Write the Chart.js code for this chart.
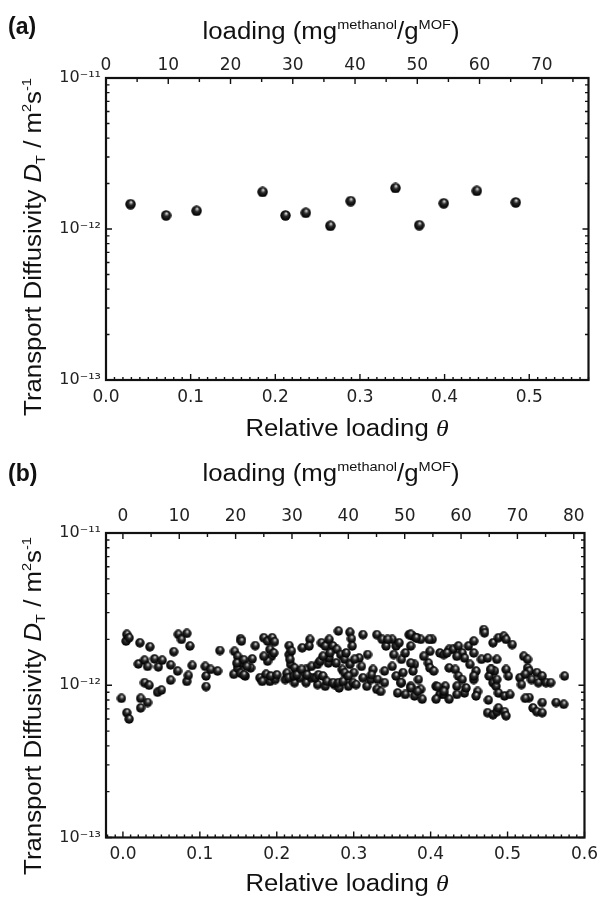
<!DOCTYPE html>
<html>
<head>
<meta charset="utf-8">
<script src="https://cdn.jsdelivr.net/npm/chart.js@4.4.1/dist/chart.umd.min.js"></script>
<style>
  body { margin: 0; background: #fff; }
  #wrap { position: relative; width: 605px; height: 897px; background: #fff; font-family: "Liberation Sans", Arial, sans-serif; color: #111; }
  canvas { position: absolute; left: 0; }
  .lab { position: absolute; white-space: nowrap; line-height: 1; transform: translate(-50%, -50%) scaleX(1.12); font-size: 23px; }
  .panel { position: absolute; font-weight: bold; font-size: 23px; line-height: 1; transform: translateY(-50%); }
  .lab sup { font-size: 13px; vertical-align: 10px; line-height: 0; }
  .lab sub { font-size: 13px; vertical-align: -4px; line-height: 0; }
  .lab.rot { transform: translate(-50%, -50%) rotate(-90deg) scaleX(1.12); }
  .th { font-family: "Liberation Serif", serif; font-style: italic; }
</style>
</head>
<body>
<div id="wrap">
  <canvas id="chartA" width="605" height="450" style="top:0"></canvas>
  <canvas id="chartB" width="605" height="447" style="top:450px"></canvas>

  <div class="panel" style="left:8px; top:26px">(a)</div>
  <div class="lab" style="left:331px; top:31px">loading (mg<sup>methanol</sup>/g<sup>MOF</sup>)</div>
  <div class="lab" style="left:347px; top:428px">Relative loading <span class="th">θ</span></div>
  <div class="lab rot" style="left:33px; top:247px">Transport Diffusivity <i>D</i><sub>T</sub> / m<sup>2</sup>s<sup>-1</sup></div>

  <div class="panel" style="left:8px; top:473px">(b)</div>
  <div class="lab" style="left:331px; top:473px">loading (mg<sup>methanol</sup>/g<sup>MOF</sup>)</div>
  <div class="lab" style="left:347px; top:883px">Relative loading <span class="th">θ</span></div>
  <div class="lab rot" style="left:33px; top:706px">Transport Diffusivity <i>D</i><sub>T</sub> / m<sup>2</sup>s<sup>-1</sup></div>
</div>

<script>
// panel (a) : relative loading / transport diffusivity
const thetaA = [0.029, 0.071, 0.107, 0.185, 0.212, 0.236, 0.265, 0.289, 0.342, 0.370, 0.399, 0.438, 0.484];
const diffA  = [1.46e-12, 1.23e-12, 1.32e-12, 1.76e-12, 1.23e-12, 1.28e-12, 1.05e-12, 1.53e-12, 1.87e-12, 1.06e-12, 1.48e-12, 1.79e-12, 1.50e-12];

// panel (b)
const thetaB = [
  -0.002, 0.004, 0.005, 0.005, 0.008, 0.008, 0.020, 0.022, 0.023, 0.023,
  0.028, 0.028, 0.032, 0.032, 0.034, 0.035, 0.041, 0.045, 0.046, 0.050,
  0.051, 0.062, 0.062, 0.066, 0.071, 0.072, 0.076, 0.083, 0.083, 0.085,
  0.087, 0.090, 0.107, 0.108, 0.108, 0.114, 0.123, 0.126,
  0.145, 0.149, 0.153, 0.154, 0.144, 0.149, 0.154, 0.159, 0.166, 0.168,
  0.172, 0.183, 0.188, 0.194, 0.191, 0.193, 0.188, 0.178, 0.186, 0.191,
  0.198, 0.216, 0.216, 0.218, 0.223, 0.211, 0.223, 0.230, 0.233, 0.243,
  0.242, 0.238, 0.245, 0.253, 0.238, 0.253, 0.245, 0.258, 0.263, 0.268,
  0.267, 0.268, 0.273, 0.280, 0.278, 0.283, 0.288, 0.285, 0.290, 0.263,
  0.275, 0.281, 0.288, 0.293, 0.295, 0.297, 0.298, 0.300, 0.312, 0.307,
  0.310, 0.312, 0.317, 0.330, 0.337, 0.342, 0.340, 0.330, 0.335, 0.325,
  0.322, 0.350, 0.355, 0.352, 0.359, 0.362, 0.367, 0.350, 0.355, 0.364,
  0.362, 0.357, 0.367, 0.372, 0.377, 0.382, 0.374, 0.387, 0.379, 0.377,
  0.384, 0.374, 0.387, 0.379, 0.389, 0.399, 0.402, 0.397, 0.399, 0.404,
  0.407, 0.412, 0.407, 0.419, 0.417, 0.424, 0.412, 0.417, 0.424, 0.429,
  0.436, 0.441, 0.444, 0.424, 0.432, 0.436, 0.441, 0.434, 0.444, 0.446,
  0.449, 0.456, 0.456, 0.451, 0.459, 0.456, 0.461, 0.459, 0.469, 0.470,
  0.466, 0.474, 0.479, 0.476, 0.483, 0.481, 0.474, 0.481, 0.486, 0.488,
  0.496, 0.498, 0.481, 0.488, 0.495, 0.498, 0.506, 0.486, 0.485, 0.488,
  0.496, 0.503, 0.498, 0.501, 0.516, 0.518, 0.521, 0.526, 0.526, 0.528,
  0.523, 0.531, 0.528, 0.523, 0.533, 0.538, 0.545, 0.545, 0.538, 0.540,
  0.545, 0.550, 0.556, 0.563, 0.573, 0.574,
  0.197, 0.219, 0.148, 0.157, 0.161, 0.153, 0.183, 0.196, 0.217, 0.256,
  0.260, 0.269, 0.277, 0.295, 0.301, 0.157, 0.181, 0.192, 0.200, 0.213,
  0.215, 0.222, 0.226, 0.232, 0.239, 0.250, 0.254, 0.260, 0.265, 0.273,
  0.280, 0.286, 0.293, 0.299, 0.303, 0.344, 0.374, 0.381, 0.398, 0.318,
  0.374, 0.391, 0.421, 0.434, 0.323, 0.331, 0.340, 0.361, 0.374, 0.383,
  0.409, 0.417, 0.434, 0.456, 0.478, 0.486, 0.475
];
const diffB = [
  0.82e-12, 1.95e-12, 2.16e-12, 0.66e-12, 2.05e-12, 0.60e-12, 1.38e-12, 1.90e-12, 0.82e-12, 0.71e-12,
  1.46e-12, 1.04e-12, 1.33e-12, 0.77e-12, 1.00e-12, 1.79e-12, 1.49e-12, 0.90e-12, 1.32e-12, 0.93e-12,
  1.46e-12, 1.36e-12, 1.08e-12, 1.66e-12, 1.24e-12, 2.16e-12, 2.00e-12, 2.19e-12, 1.06e-12, 1.16e-12,
  1.81e-12, 1.35e-12, 1.33e-12, 1.15e-12, 0.98e-12, 1.27e-12, 1.24e-12, 1.69e-12,
  1.67e-12, 1.55e-12, 2.02e-12, 1.95e-12, 1.18e-12, 1.30e-12, 1.40e-12, 1.15e-12, 1.30e-12, 1.49e-12,
  1.82e-12, 2.05e-12, 1.95e-12, 2.05e-12, 1.72e-12, 1.55e-12, 1.44e-12, 1.12e-12, 1.18e-12, 1.06e-12,
  1.09e-12, 1.82e-12, 1.59e-12, 1.37e-12, 1.30e-12, 1.09e-12, 1.04e-12, 1.12e-12, 1.76e-12, 2.00e-12,
  1.81e-12, 1.27e-12, 1.33e-12, 1.37e-12, 1.04e-12, 1.01e-12, 1.12e-12, 1.90e-12, 1.81e-12, 2.00e-12,
  1.40e-12, 1.51e-12, 1.81e-12, 2.27e-12, 1.72e-12, 1.59e-12, 1.48e-12, 1.27e-12, 1.63e-12, 0.985e-12,
  1.01e-12, 0.96e-12, 1.21e-12, 0.985e-12, 2.23e-12, 2.02e-12, 1.81e-12, 1.21e-12, 2.15e-12, 1.51e-12,
  1.33e-12, 1.12e-12, 0.985e-12, 2.15e-12, 2.00e-12, 1.81e-12, 1.24e-12, 0.94e-12, 0.91e-12, 1.27e-12,
  1.09e-12, 2.00e-12, 1.81e-12, 1.59e-12, 1.90e-12, 1.48e-12, 1.63e-12, 1.33e-12, 1.15e-12, 1.21e-12,
  1.04e-12, 0.89e-12, 0.87e-12, 2.15e-12, 2.10e-12, 2.05e-12, 1.81e-12, 2.00e-12, 1.37e-12, 1.24e-12,
  1.09e-12, 0.985e-12, 0.94e-12, 0.85e-12, 0.81e-12, 1.67e-12, 2.00e-12, 1.40e-12, 1.30e-12, 1.24e-12,
  0.985e-12, 0.87e-12, 0.81e-12, 0.985e-12, 0.87e-12, 0.81e-12, 1.63e-12, 1.59e-12, 1.72e-12, 1.72e-12,
  1.81e-12, 1.63e-12, 1.51e-12, 1.30e-12, 1.27e-12, 1.15e-12, 1.09e-12, 0.985e-12, 0.89e-12, 0.96e-12,
  1.81e-12, 1.95e-12, 1.63e-12, 1.37e-12, 1.24e-12, 1.09e-12, 0.91e-12, 0.85e-12, 2.32e-12, 2.21e-12,
  1.48e-12, 1.51e-12, 1.27e-12, 1.15e-12, 1.24e-12, 1.04e-12, 0.66e-12, 0.64e-12, 0.67e-12, 0.71e-12,
  0.67e-12, 0.63e-12, 1.90e-12, 2.05e-12, 2.10e-12, 2.00e-12, 1.85e-12, 1.48e-12, 0.985e-12, 0.89e-12,
  0.85e-12, 0.87e-12, 1.27e-12, 1.15e-12, 1.12e-12, 1.01e-12, 1.55e-12, 1.48e-12, 1.30e-12, 1.24e-12,
  1.18e-12, 1.09e-12, 0.83e-12, 0.82e-12, 0.71e-12, 0.67e-12, 0.66e-12, 0.77e-12, 1.21e-12, 1.04e-12,
  1.15e-12, 1.04e-12, 1.04e-12, 0.77e-12, 0.75e-12, 1.15e-12,
  1.93e-12, 1.68e-12, 1.40e-12, 1.47e-12, 1.33e-12, 1.20e-12, 1.55e-12, 1.63e-12, 1.48e-12, 1.44e-12,
  1.55e-12, 1.63e-12, 1.40e-12, 1.37e-12, 1.48e-12, 1.17e-12, 1.06e-12, 1.15e-12, 1.17e-12, 1.20e-12,
  1.12e-12, 1.15e-12, 1.17e-12, 1.27e-12, 1.17e-12, 1.12e-12, 1.17e-12, 1.15e-12, 1.06e-12, 1.04e-12,
  1.04e-12, 1.06e-12, 1.15e-12, 1.04e-12, 1.01e-12, 2.00e-12, 2.16e-12, 2.05e-12, 2.00e-12, 1.59e-12,
  1.40e-12, 1.55e-12, 1.63e-12, 1.55e-12, 1.17e-12, 1.09e-12, 1.04e-12, 1.04e-12, 0.96e-12, 0.91e-12,
  0.98e-12, 0.91e-12, 0.87e-12, 1.15e-12, 1.27e-12, 1.09e-12, 0.80e-12
];

// axis ranges
const rangeA = { x: [0, 0.57], top: [0, 77.5] };
const rangeB = { x: [-0.022, 0.6], top: [-3.0, 81.9] };

const FONT = '"DejaVu Sans", "Liberation Sans", Arial, sans-serif';

// little black ball used as marker
function ball(d) {
  const c = document.createElement('canvas');
  c.width = d; c.height = d;
  const g = c.getContext('2d');
  const r = d / 2;
  const grad = g.createRadialGradient(r + 0.12 * r, r - 0.42 * r, 0, r, r, r);
  grad.addColorStop(0, '#ffffff');
  grad.addColorStop(0.16, '#a8a8a8');
  grad.addColorStop(0.42, '#2a2a2a');
  grad.addColorStop(0.85, '#050505');
  grad.addColorStop(1, '#000000');
  g.fillStyle = grad;
  g.beginPath();
  g.arc(r, r, r - 0.3, 0, Math.PI * 2);
  g.fill();
  return c;
}

const supMap = { '-': '⁻', '0': '⁰', '1': '¹', '2': '²', '3': '³', '4': '⁴', '5': '⁵', '6': '⁶', '7': '⁷', '8': '⁸', '9': '⁹' };
function decadeLabel(v) {
  const e = Math.round(Math.log10(v));
  if (Math.abs(v / Math.pow(10, e) - 1) > 1e-6) return '';
  return '10' + String(e).split('').map(ch => supMap[ch]).join('');
}

// frame + inward ticks, like the origin-style plot
const frameTicks = {
  id: 'frameTicks',
  afterDatasetsDraw(chart) {
    const { ctx, chartArea: a, scales } = chart;
    ctx.save();
    ctx.strokeStyle = '#111';
    ctx.lineWidth = 1.4;
    ctx.beginPath();
    // bottom : every 0.01, long every 0.1
    const xs = scales.x;
    for (let i = Math.ceil(xs.min * 100 - 1e-6); i <= Math.floor(xs.max * 100 + 1e-6); i++) {
      const px = xs.getPixelForValue(i / 100);
      const len = i % 10 === 0 ? 6 : 3;
      ctx.moveTo(px, a.bottom); ctx.lineTo(px, a.bottom - len);
    }
    // top : every 5, long every 10
    const ts = scales.x2;
    for (let i = Math.ceil(ts.min / 5 - 1e-6); i <= Math.floor(ts.max / 5 + 1e-6); i++) {
      const px = ts.getPixelForValue(i * 5);
      const len = i % 2 === 0 ? 6 : 4;
      ctx.moveTo(px, a.top); ctx.lineTo(px, a.top + len);
    }
    // left and right : decades and 2..9
    const ys = scales.y;
    for (let e = -13; e <= -11; e++) {
      for (let m = 1; m <= 9; m++) {
        const v = m * Math.pow(10, e);
        if (v > ys.max * 1.0001) break;
        const py = ys.getPixelForValue(v);
        const len = m === 1 ? 6 : 3.5;
        ctx.moveTo(a.left, py); ctx.lineTo(a.left + len, py);
        ctx.moveTo(a.right, py); ctx.lineTo(a.right - len, py);
      }
    }
    ctx.stroke();
    ctx.lineWidth = 2.2;
    ctx.strokeRect(a.left, a.top, a.right - a.left, a.bottom - a.top);
    ctx.restore();
  }
};

function makeChart(id, theta, diff, range, dims) {
  const pts = theta.map((t, i) => ({ x: t, y: diff[i] }));
  return new Chart(document.getElementById(id), {
    type: 'scatter',
    data: {
      datasets: [{
        data: pts,
        pointStyle: ball(dims.ball),
        pointRadius: dims.ball / 2,
        showLine: false
      }]
    },
    options: {
      responsive: false,
      animation: false,
      layout: { padding: { left: 0, right: 16.5, top: 0, bottom: 0 } },
      plugins: { legend: { display: false }, tooltip: { enabled: false } },
      scales: {
        x: {
          type: 'linear', position: 'bottom',
          min: range.x[0], max: range.x[1],
          grid: { display: false, drawTicks: false }, border: { display: false },
          ticks: {
            stepSize: 0.1, includeBounds: false, padding: 7,
            color: '#222', font: { family: FONT, size: 17 },
            callback: v => v.toFixed(1)
          },
          afterFit: s => { s.height = dims.bottom; }
        },
        x2: {
          type: 'linear', position: 'top',
          min: range.top[0], max: range.top[1],
          grid: { display: false, drawTicks: false }, border: { display: false },
          ticks: {
            stepSize: 10, includeBounds: false, padding: dims.topPad,
            color: '#222', font: { family: FONT, size: 17 },
            callback: v => String(Math.round(v))
          },
          afterFit: s => { s.height = dims.top; }
        },
        y: {
          type: 'logarithmic', position: 'left',
          min: 1e-13, max: 1e-11,
          grid: { display: false, drawTicks: false }, border: { display: false },
          ticks: {
            autoSkip: false, padding: 5,
            color: '#222', font: { family: FONT, size: 16 },
            callback: v => decadeLabel(v)
          },
          afterFit: s => { s.width = 106; }
        }
      }
    },
    plugins: [frameTicks]
  });
}

makeChart('chartA', thetaA, diffA, rangeA, { ball: 11, top: 78, bottom: 70, topPad: 2 });
makeChart('chartB', thetaB, diffB, rangeB, { ball: 10, top: 83, bottom: 59.5, topPad: 6 });
</script>
</body>
</html>
